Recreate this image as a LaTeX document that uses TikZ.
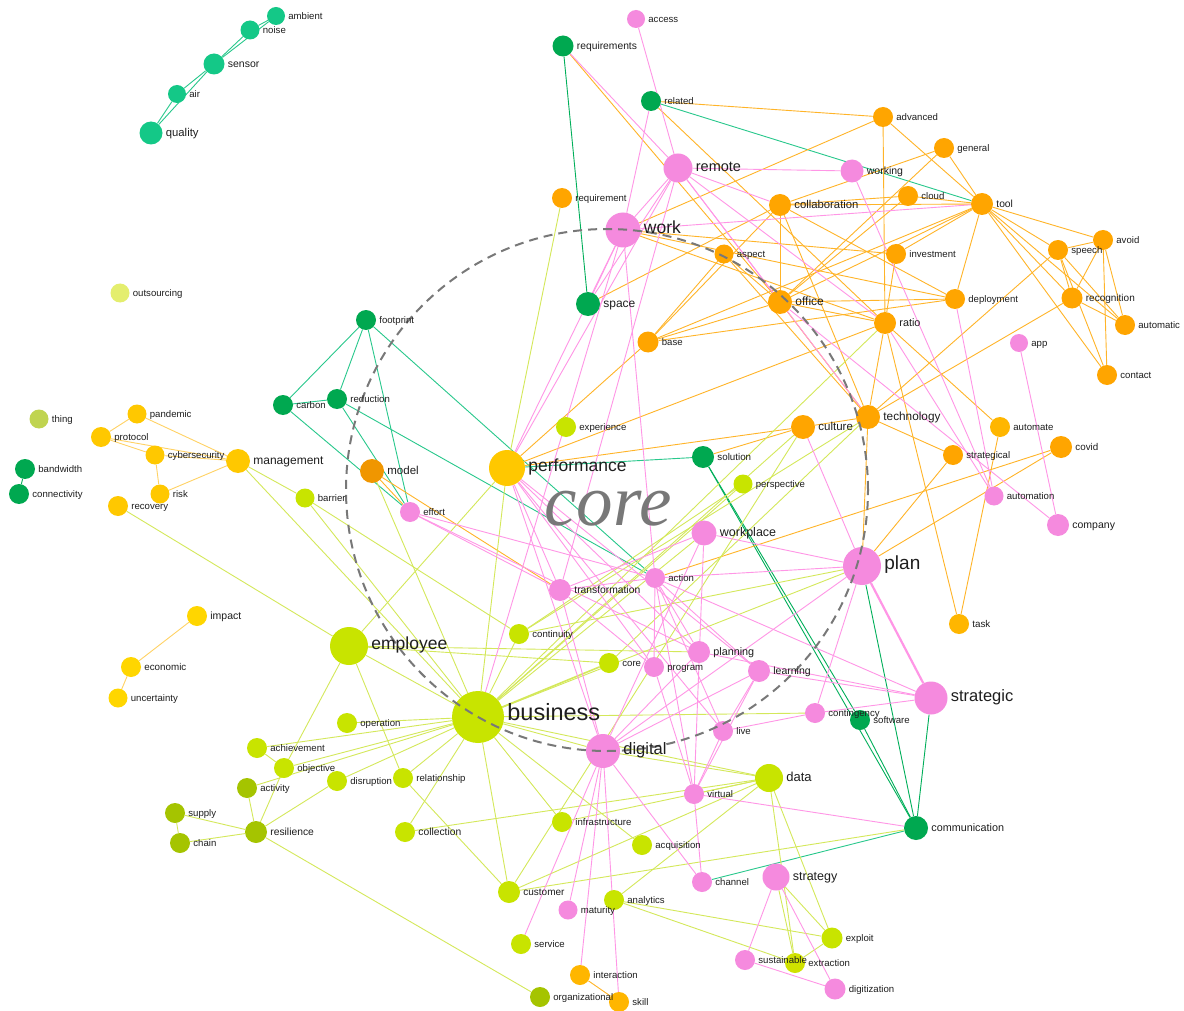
\documentclass[tikz,border=0pt]{standalone}
\usepackage{fontspec}
\setmainfont{Liberation Sans}
\newfontfamily\corefont{Liberation Serif}
\pgfdeclarelayer{bg}
\pgfdeclarelayer{edges}
\pgfdeclarelayer{circ}
\pgfdeclarelayer{fg}
\pgfsetlayers{bg,edges,main,circ,fg}
\definecolor{cT}{RGB}{20,200,135}
\definecolor{cG}{RGB}{0,168,80}
\definecolor{cP}{RGB}{245,138,222}
\definecolor{cO}{RGB}{255,165,0}
\definecolor{cA}{RGB}{255,182,0}
\definecolor{cY}{RGB}{255,200,0}
\definecolor{cGold}{RGB}{255,214,0}
\definecolor{cL}{RGB}{200,228,0}
\definecolor{cOl}{RGB}{165,196,0}
\definecolor{cExt}{RGB}{208,226,0}
\definecolor{cModel}{RGB}{240,150,0}
\definecolor{cThing}{RGB}{192,212,80}
\definecolor{cOut}{RGB}{228,238,110}
\definecolor{eP}{RGB}{255,150,230}
\definecolor{eO}{RGB}{255,180,40}
\definecolor{eL}{RGB}{212,232,90}
\definecolor{eT}{RGB}{40,200,140}
\definecolor{eG}{RGB}{0,175,90}
\definecolor{eY}{RGB}{255,210,100}
\definecolor{txt}{RGB}{30,30,30}
\definecolor{dash}{RGB}{120,120,120}
\tikzset{
  dot/.style={circle, inner sep=0pt, draw=none},
  lbl/.style={inner sep=0pt, text=txt, text height=0.66em, text depth=0pt},
  tsz/.style={font=\fontsize{#1}{#1}\selectfont},
  ep/.style={draw=eP, line width=0.9pt},
  eo/.style={draw=eO, line width=0.9pt},
  el/.style={draw=eL, line width=0.9pt},
  et/.style={draw=eT, line width=0.9pt},
  eg/.style={draw=eG, line width=0.9pt},
  ey/.style={draw=eY, line width=0.9pt},
  ringline/.style={draw=dash, line width=2pt, dash pattern=on 9pt off 6pt},
  corelabel/.style={text=dash, inner sep=0pt, text height=0.44em, text depth=0pt, font=\corefont\itshape\fontsize{73}{73}\selectfont},
}
\newcommand\mknode[7]{%
  \node[dot, fill=#5, minimum size=2*#4] (#1) at (#2,#3) {};
  \begin{pgfonlayer}{fg}\node[lbl, tsz=#7, anchor=west] (#1t) at ([xshift=3pt]#1.east) {#6};\end{pgfonlayer}}
\begin{document}
\begin{tikzpicture}[x=1pt,y=-1pt]
\begin{pgfonlayer}{bg}
\fill[white] (0,0) rectangle (1184,1011);
\end{pgfonlayer}
\useasboundingbox (0,0) rectangle (1184,1011);
\mknode{ambient}{276}{16}{9}{cT}{ambient}{9.6}
\mknode{noise}{250}{30}{9.5}{cT}{noise}{9.6}
\mknode{sensor}{214}{64}{10.5}{cT}{sensor}{10.5}
\mknode{air}{177}{94}{9}{cT}{air}{9.6}
\mknode{quality}{151}{133}{11.5}{cT}{quality}{11.3}
\mknode{outsourcing}{120}{293}{9.5}{cOut}{outsourcing}{9.6}
\mknode{access}{636}{19}{9}{cP}{access}{9.6}
\mknode{requirements}{563}{46}{10.5}{cG}{requirements}{10.3}
\mknode{related}{651}{101}{10}{cG}{related}{9.6}
\mknode{remote}{678}{168}{14.5}{cP}{remote}{14.5}
\mknode{requirement}{562}{198}{10}{cO}{requirement}{9.6}
\mknode{work}{623}{230}{17.5}{cP}{work}{17.5}
\mknode{space}{588}{304}{12}{cG}{space}{12}
\mknode{base}{648}{342}{10.5}{cO}{base}{9.6}
\mknode{aspect}{724}{254}{9.5}{cO}{aspect}{9.6}
\mknode{collaboration}{780}{205}{11}{cO}{collaboration}{11.3}
\mknode{office}{780}{302}{12}{cO}{office}{12}
\mknode{advanced}{883}{117}{10}{cO}{advanced}{9.6}
\mknode{general}{944}{148}{10}{cO}{general}{9.6}
\mknode{working}{852}{171}{11.5}{cP}{working}{10.5}
\mknode{cloud}{908}{196}{10}{cO}{cloud}{9.6}
\mknode{tool}{982}{204}{11}{cO}{tool}{10.3}
\mknode{investment}{896}{254}{10}{cO}{investment}{9.6}
\mknode{speech}{1058}{250}{10}{cO}{speech}{9.6}
\mknode{avoid}{1103}{240}{10}{cO}{avoid}{9.6}
\mknode{deployment}{955}{299}{10}{cO}{deployment}{9.6}
\mknode{recognition}{1072}{298}{10.5}{cO}{recognition}{10}
\mknode{automatic}{1125}{325}{10}{cO}{automatic}{9.6}
\mknode{ratio}{885}{323}{11}{cO}{ratio}{10.8}
\mknode{app}{1019}{343}{9}{cP}{app}{9.6}
\mknode{contact}{1107}{375}{10}{cO}{contact}{9.6}
\mknode{footprint}{366}{320}{10}{cG}{footprint}{9.6}
\mknode{carbon}{283}{405}{10}{cG}{carbon}{9.6}
\mknode{reduction}{337}{399}{10}{cG}{reduction}{9.6}
\mknode{thing}{39}{419}{9.5}{cThing}{thing}{9.6}
\mknode{pandemic}{137}{414}{9.5}{cY}{pandemic}{9.6}
\mknode{protocol}{101}{437}{10}{cY}{protocol}{9.6}
\mknode{cybersecurity}{155}{455}{9.5}{cY}{cybersecurity}{9.6}
\mknode{management}{238}{461}{12}{cY}{management}{12}
\mknode{bandwidth}{25}{469}{10}{cG}{bandwidth}{9.6}
\mknode{connectivity}{19}{494}{10}{cG}{connectivity}{9.6}
\mknode{risk}{160}{494}{9.5}{cY}{risk}{9.6}
\mknode{recovery}{118}{506}{10}{cY}{recovery}{9.6}
\mknode{barrier}{305}{498}{9.5}{cL}{barrier}{9.6}
\mknode{model}{372}{471}{12}{cModel}{model}{11.5}
\mknode{effort}{410}{512}{10}{cP}{effort}{9.6}
\mknode{experience}{566}{427}{10}{cL}{experience}{9.6}
\mknode{performance}{507}{468}{18}{cY}{performance}{17.5}
\mknode{solution}{703}{457}{11}{cG}{solution}{9.8}
\mknode{perspective}{743}{484}{9.5}{cL}{perspective}{9.6}
\mknode{culture}{803}{427}{12}{cO}{culture}{11.5}
\mknode{technology}{868}{417}{12}{cO}{technology}{11.8}
\mknode{workplace}{704}{533}{12.5}{cP}{workplace}{12.5}
\mknode{action}{655}{578}{10}{cP}{action}{9.6}
\mknode{transformation}{560}{590}{11}{cP}{transformation}{10.3}
\mknode{continuity}{519}{634}{10}{cL}{continuity}{9.6}
\mknode{planning}{699}{652}{11}{cP}{planning}{10.8}
\mknode{core}{609}{663}{10}{cL}{core}{9.6}
\mknode{program}{654}{667}{10}{cP}{program}{9.6}
\mknode{learning}{759}{671}{11}{cP}{learning}{10.5}
\mknode{plan}{862}{566}{19}{cP}{plan}{19}
\mknode{strategic}{931}{698}{16.5}{cP}{strategic}{16.5}
\mknode{automate}{1000}{427}{10}{cA}{automate}{9.6}
\mknode{strategical}{953}{455}{10}{cO}{strategical}{9.6}
\mknode{covid}{1061}{447}{11}{cO}{covid}{9.8}
\mknode{automation}{994}{496}{9.5}{cP}{automation}{9.6}
\mknode{company}{1058}{525}{11}{cP}{company}{10.5}
\mknode{task}{959}{624}{10}{cA}{task}{9.8}
\mknode{impact}{197}{616}{10}{cGold}{impact}{10.5}
\mknode{economic}{131}{667}{10}{cGold}{economic}{9.8}
\mknode{uncertainty}{118}{698}{9.5}{cGold}{uncertainty}{9.6}
\mknode{employee}{349}{646}{19}{cL}{employee}{17.5}
\mknode{operation}{347}{723}{10}{cL}{operation}{9.6}
\mknode{achievement}{257}{748}{10}{cL}{achievement}{9.6}
\mknode{objective}{284}{768}{10}{cL}{objective}{9.6}
\mknode{activity}{247}{788}{10}{cOl}{activity}{9.6}
\mknode{disruption}{337}{781}{10}{cL}{disruption}{9.6}
\mknode{relationship}{403}{778}{10}{cL}{relationship}{9.6}
\mknode{supply}{175}{813}{10}{cOl}{supply}{9.6}
\mknode{resilience}{256}{832}{11}{cOl}{resilience}{10.3}
\mknode{chain}{180}{843}{10}{cOl}{chain}{9.6}
\mknode{collection}{405}{832}{10}{cL}{collection}{10.3}
\mknode{business}{478}{717}{26}{cL}{business}{23.5}
\mknode{digital}{603}{751}{17}{cP}{digital}{16.5}
\mknode{contingency}{815}{713}{10}{cP}{contingency}{9.6}
\mknode{software}{860}{720}{10}{cG}{software}{9.6}
\mknode{live}{723}{731}{10}{cP}{live}{9.6}
\mknode{data}{769}{778}{14}{cL}{data}{13}
\mknode{virtual}{694}{794}{10}{cP}{virtual}{9.6}
\mknode{communication}{916}{828}{12}{cG}{communication}{10.8}
\mknode{infrastructure}{562}{822}{10}{cL}{infrastructure}{9.6}
\mknode{acquisition}{642}{845}{10}{cL}{acquisition}{9.6}
\mknode{channel}{702}{882}{10}{cP}{channel}{9.6}
\mknode{strategy}{776}{877}{13.5}{cP}{strategy}{12.5}
\mknode{customer}{509}{892}{11}{cL}{customer}{10}
\mknode{analytics}{614}{900}{10}{cL}{analytics}{9.6}
\mknode{maturity}{568}{910}{9.5}{cP}{maturity}{9.6}
\mknode{service}{521}{944}{10}{cL}{service}{9.6}
\mknode{exploit}{832}{938}{10.5}{cL}{exploit}{9.6}
\mknode{sustainable}{745}{960}{10}{cP}{sustainable}{9.6}
\mknode{extraction}{795}{963}{10}{cExt}{extraction}{9.6}
\mknode{digitization}{835}{989}{10.5}{cP}{digitization}{9.6}
\mknode{interaction}{580}{975}{10}{cA}{interaction}{9.6}
\mknode{organizational}{540}{997}{10}{cOl}{organizational}{9.6}
\mknode{skill}{619}{1002}{10}{cA}{skill}{9.6}
\begin{pgfonlayer}{edges}
\foreach \a/\b in {ambient/noise, ambient/sensor, noise/sensor, sensor/air, sensor/quality, air/quality, related/tool, footprint/carbon, footprint/reduction, footprint/effort, footprint/action, carbon/reduction, carbon/effort, reduction/action, reduction/effort, performance/solution, channel/communication}
  \draw[et] (\a) -- (\b);
\foreach \a/\b in {requirements/space, bandwidth/connectivity, solution/software, solution/communication, software/communication, plan/communication, strategic/communication}
  \draw[eg] (\a) -- (\b);
\foreach \a/\b in {impact/economic, economic/uncertainty, pandemic/protocol, pandemic/management, protocol/cybersecurity, protocol/management, cybersecurity/risk, cybersecurity/management, risk/management}
  \draw[ey] (\a) -- (\b);
\foreach \a/\b in {requirements/office, related/advanced, related/ratio, work/advanced, work/investment, work/ratio, work/deployment, space/collaboration, aspect/office, aspect/base, aspect/technology, collaboration/office, collaboration/cloud, collaboration/tool, collaboration/base, collaboration/general, collaboration/technology, collaboration/deployment, cloud/tool, cloud/office, advanced/tool, advanced/ratio, general/tool, general/office, tool/investment, tool/deployment, tool/speech, tool/avoid, tool/recognition, tool/automatic, tool/contact, tool/office, tool/base, investment/ratio, deployment/office, deployment/base, speech/avoid, speech/recognition, speech/automatic, speech/contact, speech/technology, avoid/recognition, avoid/automatic, avoid/contact, recognition/automatic, recognition/technology, office/ratio, office/technology, office/base, ratio/technology, ratio/task, ratio/automate, technology/culture, technology/strategical, technology/plan, culture/performance, performance/base, performance/ratio, solution/culture, strategical/plan, covid/plan, covid/action, automate/task, model/transformation, model/effort, interaction/skill}
  \draw[eo] (\a) -- (\b);
\foreach \a/\b in {requirement/performance, management/barrier, management/business, recovery/employee, barrier/business, barrier/continuity, model/business, employee/performance, employee/business, employee/planning, employee/relationship, employee/objective, employee/core, operation/business, achievement/business, achievement/objective, objective/business, objective/resilience, activity/business, activity/resilience, disruption/business, disruption/resilience, relationship/business, relationship/customer, collection/business, collection/data, supply/chain, supply/resilience, chain/resilience, resilience/organizational, business/performance, business/continuity, business/plan, business/perspective, business/culture, business/data, business/digital, business/customer, business/infrastructure, business/acquisition, business/contingency, business/ratio, business/workplace, continuity/plan, continuity/technology, continuity/perspective, core/technology, culture/customer, data/digital, data/virtual, data/customer, data/analytics, data/exploit, data/extraction, data/infrastructure, customer/communication, analytics/exploit, analytics/extraction, strategy/exploit, strategy/extraction, exploit/extraction}
  \draw[el] (\a) -- (\b);
\draw[el, line width=1.6pt] (business) -- (core);
\foreach \a/\b in {access/remote, requirements/remote, related/work, remote/work, remote/space, remote/performance, remote/working, remote/collaboration, remote/office, remote/ratio, remote/technology, remote/transformation, work/space, work/performance, work/tool, work/business, work/action, working/automation, deployment/automation, ratio/automation, app/company, office/company, culture/plan, plan/workplace, plan/action, plan/digital, plan/contingency, strategic/planning, strategic/learning, strategic/contingency, strategic/action, action/transformation, action/planning, action/program, action/learning, action/live, action/virtual, action/effort, transformation/performance, transformation/effort, transformation/workplace, transformation/digital, transformation/program, effort/planning, performance/digital, performance/program, performance/learning, performance/live, performance/planning, workplace/digital, workplace/virtual, digital/maturity, digital/skill, digital/interaction, digital/service, digital/channel, digital/learning, digital/planning, virtual/live, virtual/learning, virtual/channel, virtual/communication, virtual/program, live/contingency, live/learning, strategy/sustainable, strategy/digitization, sustainable/digitization}
  \draw[ep] (\a) -- (\b);
\draw[ep, line width=2.2pt] (plan) -- (strategic);
\end{pgfonlayer}
\begin{pgfonlayer}{circ}
\coordinate (ringc) at (607,490);
\draw[ringline] (ringc) circle [radius=261pt];
\node[corelabel, anchor=base] (coreword) at (608,525) {core};
\end{pgfonlayer}
\end{tikzpicture}
\end{document}
